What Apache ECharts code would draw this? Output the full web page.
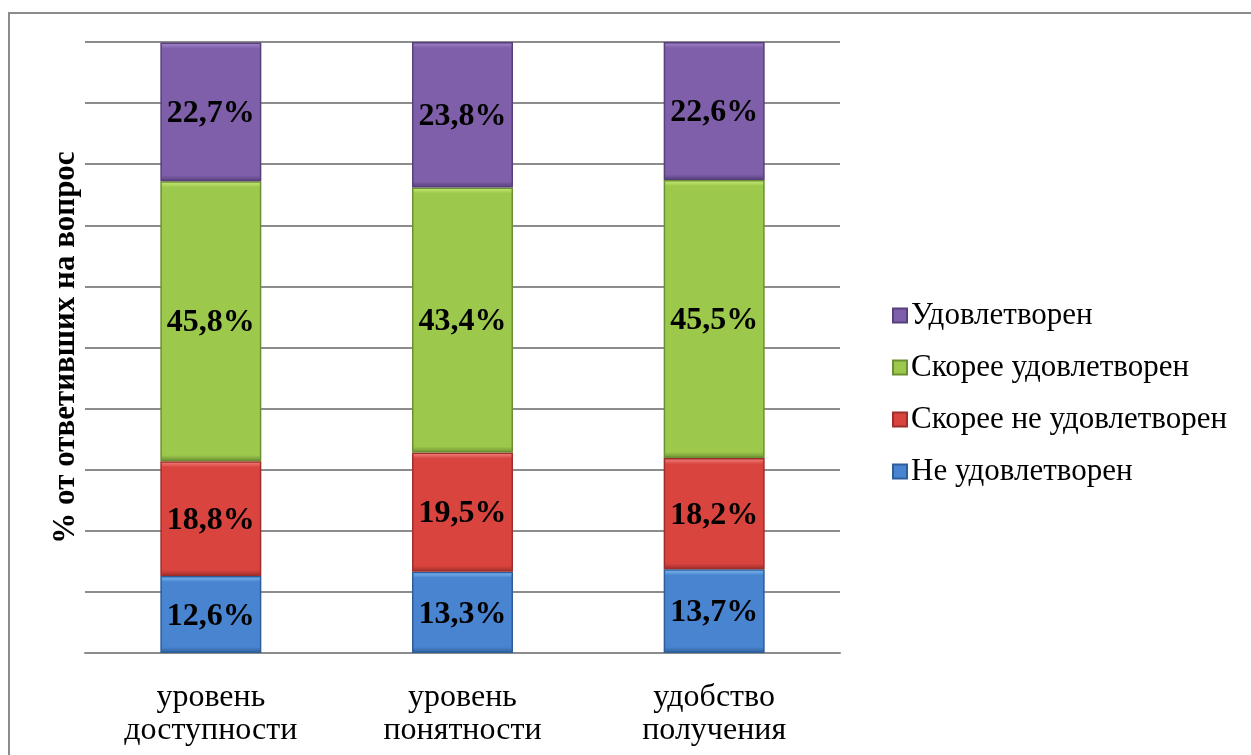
<!DOCTYPE html>
<html><head><meta charset="utf-8">
<script src="https://cdn.jsdelivr.net/npm/echarts@6/dist/echarts.min.js"></script>
<style>html,body{margin:0;padding:0;background:#fff}#c{width:1251px;height:755px}</style>
</head><body><div id="c"></div>
<script>
const categories = ['уровень\nдоступности', 'уровень\nпонятности', 'удобство\nполучения'];
const seriesNames = ['Не удовлетворен', 'Скорее не удовлетворен', 'Скорее удовлетворен', 'Удовлетворен'];
const neUdovl = [12.6, 13.3, 13.7];
const skoreeNe = [18.8, 19.5, 18.2];
const skoreeUd = [45.8, 43.4, 45.5];
const udovl = [22.7, 23.8, 22.6];
const legendOrder = ['Удовлетворен', 'Скорее удовлетворен', 'Скорее не удовлетворен', 'Не удовлетворен'];
const yTitle = '% от ответивших на вопрос';

const values = [neUdovl, skoreeNe, skoreeUd, udovl];
const palette = [
  {base:'#4884cf', dark:'#2d5e9a', light:'#86c0f4'},
  {base:'#d9443f', dark:'#9e2e2b', light:'#f58a82'},
  {base:'#9cc84c', dark:'#6c8f33', light:'#cdee7c'},
  {base:'#7f5fa9', dark:'#56407c', light:'#a68ad0'}
];
const pxPerUnit = 6.11; // approximate px per percent, for bevel thickness only
function grad(p, v){
  const h = Math.max(v * pxPerUnit, 14);
  const e = 6 / h;
  return new echarts.graphic.LinearGradient(0,0,0,1,[
    {offset:0,color:p.light},{offset:e,color:p.base},{offset:1-e,color:p.base},{offset:1,color:p.dark}
  ]);
}
const series = seriesNames.map((n,i)=>({
  name:n, type:'bar', stack:'s', barWidth:101,
  data: values[i].map(v=>({value:v, itemStyle:{color:grad(palette[i], v)}})),
  itemStyle:{color:palette[i].base, borderColor:palette[i].dark, borderWidth:1.5},
  label:{show:true, position:'inside', offset:[0,2], formatter:p=>p.value.toFixed(1).replace('.',',')+'%',
    fontFamily:'Liberation Serif', fontWeight:'bold', fontSize:32, color:'#000'}
}));
const chart = echarts.init(document.getElementById('c'));
chart.setOption({
  animation:false,
  color: palette.map(p=>p.base),
  grid:{left:85, right:411, top:42, bottom:102},
  xAxis:{type:'category', data:categories,
    axisLine:{lineStyle:{color:'#8c8c8c', width:2}}, axisTick:{show:false},
    axisLabel:{fontFamily:'Liberation Serif', fontSize:32, color:'#000', lineHeight:33, margin:28}},
  yAxis:{type:'value', min:0, max:100, interval:10,
    axisLabel:{show:false}, axisLine:{show:false}, axisTick:{show:false},
    splitLine:{lineStyle:{color:'#8c8c8c', width:2}},
    name:yTitle, nameLocation:'middle', nameGap:4,
    nameTextStyle:{fontFamily:'Liberation Serif', fontWeight:'bold', fontSize:31, color:'#000'}},
  legend:{orient:'vertical', left:887, top:295, data:legendOrder, icon:'rect', itemWidth:14, itemHeight:14,
    itemGap:21, textStyle:{fontFamily:'Liberation Serif', fontSize:31, color:'#000', padding:[0,0,0,-1]}},
  graphic:[{type:'rect', shape:{x:9,y:13,width:1400,height:900}, style:{fill:null, stroke:'#8c8c8c', lineWidth:2}, silent:true}],
  series: series
});
</script></body></html>
